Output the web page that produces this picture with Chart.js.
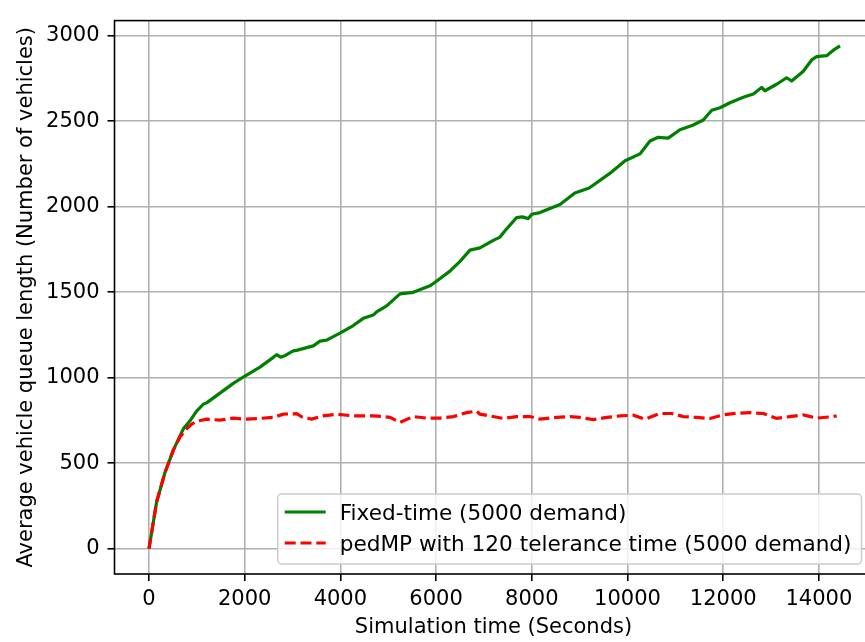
<!DOCTYPE html>
<html>
<head>
<meta charset="utf-8">
<script src="https://cdn.jsdelivr.net/npm/chart.js@4.4.0/dist/chart.umd.min.js"></script>
<style>
  html, body { margin: 0; padding: 0; background: #fff; overflow: hidden; }
  #wrap { width: 865px; height: 642px; overflow: hidden; }
</style>
</head>
<body>
<div id="wrap"><canvas id="queueChart" width="873" height="642"></canvas></div>
<script>
// tick labels
const xTicks = [0, 2000, 4000, 6000, 8000, 10000, 12000, 14000];
const yTicks = [0, 500, 1000, 1500, 2000, 2500, 3000];

// Fixed-time (5000 demand)
const fixedTime = [0, 160, 334, 509, 718, 857, 996, 1135, 1205, 1484, 1762, 2006, 2320, 2598, 2668, 2750, 2850, 3016, 3086, 3295, 3434, 3574, 3713, 3992, 4270, 4479, 4688, 4758, 4967, 5246, 5524, 5873, 6000, 6290, 6500, 6708, 6917, 7195, 7335, 7475, 7684, 7800, 7927, 8000, 8171, 8589, 8900, 9200, 9630, 9950, 10260, 10470, 10640, 10850, 11097, 11375, 11584, 11760, 11933, 12142, 12420, 12629, 12803, 12873, 13117, 13326, 13431, 13674, 13849, 13953, 14162, 14301, 14441];
const fixedQueue = [0, 274, 445, 577, 701, 748, 805, 845, 853, 910, 967, 1010, 1062, 1119, 1135, 1120, 1130, 1157, 1160, 1176, 1186, 1214, 1220, 1261, 1305, 1347, 1366, 1385, 1420, 1490, 1499, 1537, 1562, 1623, 1680, 1746, 1759, 1803, 1822, 1870, 1936, 1940, 1930, 1955, 1965, 2012, 2080, 2109, 2194, 2268, 2308, 2383, 2405, 2400, 2449, 2477, 2506, 2563, 2578, 2607, 2639, 2658, 2696, 2677, 2715, 2753, 2734, 2791, 2857, 2876, 2882, 2914, 2939];

// pedMP with 120 telerance time (5000 demand)
const pedTime = [0, 160, 334, 509, 648, 788, 900, 1031, 1205, 1484, 1762, 2000, 2300, 2598, 2807, 3086, 3200, 3400, 3643, 3922, 4270, 4688, 4897, 5036, 5246, 5524, 5804, 6082, 6360, 6639, 6848, 6917, 7126, 7405, 7684, 7962, 8171, 8520, 8798, 9007, 9286, 9565, 9843, 10122, 10366, 10679, 10923, 11167, 11446, 11724, 12002, 12281, 12560, 12838, 13117, 13396, 13674, 13953, 14301, 14371];
const pedQueue = [0, 274, 445, 577, 654, 701, 730, 748, 758, 752, 764, 758, 762, 768, 787, 790, 770, 758, 777, 787, 777, 777, 773, 768, 739, 773, 764, 764, 773, 796, 805, 787, 777, 762, 773, 773, 758, 768, 773, 768, 755, 768, 777, 781, 758, 791, 791, 773, 768, 762, 783, 792, 796, 791, 762, 773, 783, 764, 773, 777];

const FONT = 'DejaVu Sans';
const FONT_SIZE = 21;
const LEGEND_FONT_SIZE = 21.6;
Chart.defaults.font.family = FONT;
Chart.defaults.font.size = FONT_SIZE;
Chart.defaults.color = '#000';

function toPoints(xs, ys) {
    return xs.map((x, i) => ({x: x, y: ys[i]}));
}

// frame on all four sides + matplotlib-like legend in the lower right
const framePlugin = {
    id: 'frameAndLegend',
    afterDatasetsDraw(chart) {
        const ctx = chart.ctx;
        const a = chart.chartArea;
        ctx.save();
        ctx.strokeStyle = '#000';
        ctx.lineWidth = 1.6;
        ctx.strokeRect(a.left, a.top, a.right - a.left, a.bottom - a.top);

        ctx.font = LEGEND_FONT_SIZE + 'px "' + FONT + '"';
        const sets = chart.data.datasets;
        let textW = 0;
        sets.forEach(ds => { textW = Math.max(textW, ctx.measureText(ds.label).width); });
        const boxW = 8 + 40 + 16 + textW + 8;
        const boxH = 70;
        const boxR = a.right - 11;
        const boxB = a.bottom - 10;
        const boxL = boxR - boxW;
        const boxT = boxB - boxH;
        ctx.beginPath();
        ctx.roundRect(boxL, boxT, boxW, boxH, 4);
        ctx.fillStyle = 'rgba(255,255,255,0.8)';
        ctx.fill();
        ctx.strokeStyle = '#cccccc';
        ctx.lineWidth = 1.5;
        ctx.stroke();

        sets.forEach((ds, i) => {
            const cy = boxT + 18 + i * 31;
            ctx.beginPath();
            ctx.setLineDash(ds.borderDash || []);
            ctx.strokeStyle = ds.borderColor;
            ctx.lineWidth = ds.borderWidth;
            ctx.lineCap = 'butt';
            ctx.moveTo(boxL + 7, cy);
            ctx.lineTo(boxL + 48, cy);
            ctx.stroke();
            ctx.setLineDash([]);
            ctx.fillStyle = '#000';
            ctx.textBaseline = 'alphabetic';
            ctx.textAlign = 'left';
            ctx.fillText(ds.label, boxL + 62, cy + 8);
        });
        ctx.restore();
    }
};

const ctx = document.getElementById('queueChart').getContext('2d');
const myChart = new Chart(ctx, {
    type: 'line',
    data: {
        datasets: [{
            label: 'Fixed-time (5000 demand)',
            data: toPoints(fixedTime, fixedQueue),
            borderColor: '#008000',
            backgroundColor: '#008000',
            borderWidth: 3.2,
            borderJoinStyle: 'round',
            pointRadius: 0,
            fill: false,
            order: 1
        }, {
            label: 'pedMP with 120 telerance time (5000 demand)',
            data: toPoints(pedTime, pedQueue),
            borderColor: '#ff0000',
            backgroundColor: '#ff0000',
            borderWidth: 3.2,
            borderDash: [11, 4.8],
            borderCapStyle: 'butt',
            pointRadius: 0,
            fill: false,
            order: 0
        }]
    },
    options: {
        responsive: false,
        animation: false,
        layout: { padding: { top: 6.5, left: 0, right: 0.5, bottom: 0 } },
        plugins: {
            legend: { display: false },
            tooltip: { enabled: false }
        },
        scales: {
            x: {
                type: 'linear',
                min: -720,
                max: 15120,
                afterBuildTicks: axis => { axis.ticks = xTicks.map(v => ({value: v})); },
                afterFit: scale => { scale.height = 68; },
                ticks: { padding: 6, maxRotation: 0, callback: v => String(v) },
                grid: { color: '#b0b0b0', lineWidth: 1.6, tickColor: '#000', tickLength: 7, tickWidth: 1.6 },
                border: { display: false },
                title: { display: true, text: 'Simulation time (Seconds)', padding: { top: 0, bottom: 1.5 } }
            },
            y: {
                type: 'linear',
                min: -147,
                max: 3087,
                afterBuildTicks: axis => { axis.ticks = yTicks.map(v => ({value: v})); },
                afterFit: scale => { scale.width = 114.5; },
                ticks: { padding: 8, callback: v => String(v) },
                grid: { color: '#b0b0b0', lineWidth: 1.6, tickColor: '#000', tickLength: 7, tickWidth: 1.6 },
                border: { display: false },
                title: { display: true, text: 'Average vehicle queue length (Number of vehicles)', padding: { top: 14, bottom: 0 } }
            }
        }
    },
    plugins: [framePlugin]
});
</script>
</body>
</html>
